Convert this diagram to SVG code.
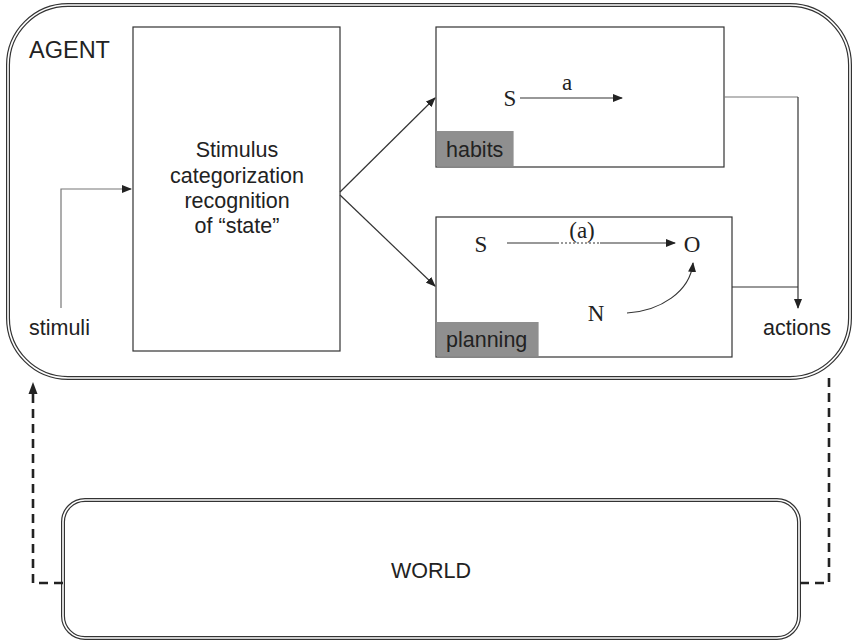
<svg xmlns="http://www.w3.org/2000/svg" width="852" height="640" viewBox="0 0 852 640">
<defs>
<marker id="ah" markerWidth="10" markerHeight="8" refX="9" refY="4" orient="auto" markerUnits="userSpaceOnUse">
<path d="M0,0 L10,4 L0,8 z" fill="#222"/>
</marker>
</defs>
<style>
.frame-o{fill:none;stroke:#333;stroke-width:4}
.frame-i{fill:none;stroke:#fff;stroke-width:1.6}
.box{fill:#fff;stroke:#333;stroke-width:1.2}
.lbl{fill:#8f8f8f}
.t{font-family:"Liberation Sans",Arial,sans-serif;font-size:21.5px;fill:#222}
.s{font-family:"Liberation Serif","Times New Roman",serif;font-size:23px;fill:#222}
.ln{fill:none;stroke:#333;stroke-width:1.2}
.lg{fill:none;stroke:#777;stroke-width:1.2}
.dash{fill:none;stroke:#222;stroke-width:2.6;stroke-dasharray:9,6}
</style>
<g id="agent">
<rect class="frame-o" x="8" y="5" width="842" height="373" rx="60" ry="60"/>
<rect class="frame-i" x="8" y="5" width="842" height="373" rx="60" ry="60"/>
<text class="t" x="29" y="58" style="font-size:23.5px">AGENT</text>
</g>
<g id="stimuli">
<text class="t" x="29" y="335">stimuli</text>
</g>
<g id="actions">
<text class="t" x="763" y="335">actions</text>
</g>
<g id="categorization">
<rect class="box" x="133" y="27" width="207" height="324"/>
<text class="t" text-anchor="middle" x="237" y="157">Stimulus</text>
<text class="t" text-anchor="middle" x="237" y="183">categorization</text>
<text class="t" text-anchor="middle" x="237" y="208">recognition</text>
<text class="t" text-anchor="middle" x="237" y="233">of “state”</text>
</g>
<g id="habits">
<rect class="box" x="436" y="27" width="288" height="140"/>
<rect class="lbl" x="436.6" y="131" width="77" height="35.4"/>
<text class="t" x="446" y="157">habits</text>
<text class="s" x="510" y="106" text-anchor="middle">S</text>
<text class="s" x="567" y="90" text-anchor="middle">a</text>
<line class="ln" x1="520" y1="98" x2="622" y2="98" marker-end="url(#ah)"/>
</g>
<g id="planning">
<rect class="box" x="436" y="217" width="296" height="140"/>
<rect class="lbl" x="436.6" y="322" width="102" height="34.4"/>
<text class="t" x="446" y="347">planning</text>
<text class="s" x="481" y="252" text-anchor="middle">S</text>
<text class="s" x="582" y="238" text-anchor="middle">(a)</text>
<text class="s" x="692" y="252" text-anchor="middle">O</text>
<text class="s" x="596" y="321" text-anchor="middle">N</text>
<line class="ln" x1="507" y1="243" x2="557" y2="243"/>
<line class="ln" x1="557" y1="243" x2="600" y2="243" stroke-dasharray="2,2"/>
<line class="ln" x1="600" y1="243" x2="675" y2="243" marker-end="url(#ah)"/>
<path class="ln" d="M627,313 C660,311 690,292 693,263" marker-end="url(#ah)"/>
</g>
<g id="world">
<rect class="frame-o" x="63" y="500" width="736" height="138" rx="22" ry="22"/>
<rect class="frame-i" x="63" y="500" width="736" height="138" rx="22" ry="22"/>
<text class="t" x="431" y="578" text-anchor="middle">WORLD</text>
</g>
<g id="connectors">
<path class="lg" d="M61,308 V189 H131" marker-end="url(#ah)"/>
<line class="ln" x1="340" y1="192" x2="435" y2="98" marker-end="url(#ah)"/>
<line class="ln" x1="340" y1="195" x2="435" y2="286" marker-end="url(#ah)"/>
<path class="lg" d="M724,97 H798"/>
<path class="ln" d="M798,97 V308" marker-end="url(#ah)"/>
<path class="ln" d="M732,287 H798"/>
<path class="dash" d="M63,583 H33 V392"/>
<path d="M33,382 L28.5,394 L37.5,394 z" fill="#222"/>
<path class="dash" d="M829,378 V583 H799"/>
</g>
</svg>
